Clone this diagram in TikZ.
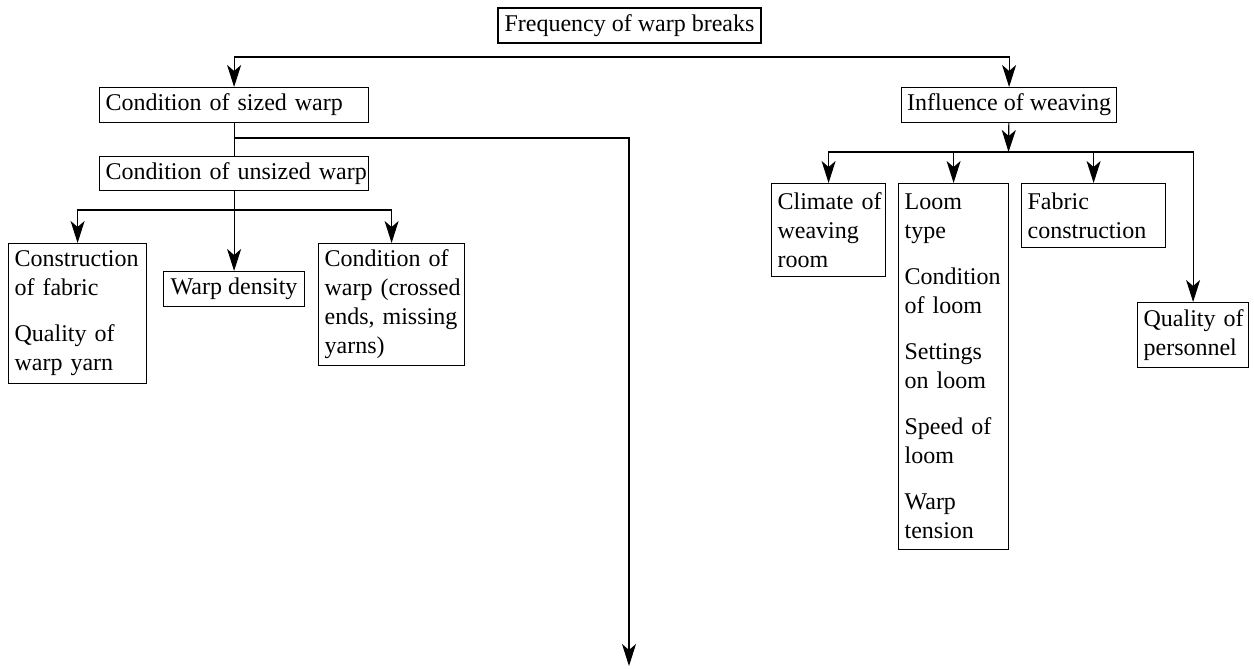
\documentclass[tikz,border=0pt]{standalone}
\usepackage{fontspec}
\setmainfont{Liberation Serif}
\usetikzlibrary{arrows.meta}
\hyphenpenalty=10000
\exhyphenpenalty=10000

\begin{document}
\begin{tikzpicture}[
    x=0.5pt, y=-0.5pt, % one unit = one pixel of the layout
    every node/.style={font=\fontsize{12pt}{14.5pt}\selectfont},
    box/.style={
      rectangle, draw, line width=0.6pt,
      inner xsep=3pt, inner ysep=2pt,
      align=left, anchor=north west
    },
    cbox/.style={
      rectangle, draw, line width=0.6pt,
      inner sep=2pt, align=center
    },
    arrow/.style={-{Stealth[length=11pt, width=7pt, inset=3pt]}, line width=0.6pt},
    link/.style={line width=0.6pt},
  ]
  \useasboundingbox (0,0) rectangle (1254,669);

  % --- Top ---
  \node[cbox, minimum width=131.5pt, minimum height=17.5pt] (freq) at (629.5,25.5)
    {Frequency of warp breaks};

  % --- Warp branch (left) ---
  \node[box, text width=128.5pt, minimum height=17.5pt] (sized) at (99,87)
    {Condition~of~sized~warp};
  \node[box, text width=128.5pt, minimum height=17pt] (unsized) at (99,156)
    {\mbox{Condition of unsized warp}};

  \node[box, text width=63pt, minimum height=70pt] (construct) at (8,243)
    {Construction\\of~fabric\\[8.5pt]
     Quality~of\\warp~yarn};
  \node[cbox, minimum width=70.5pt, minimum height=17.5pt, anchor=north west] (density) at (163,271)
    {Warp density};
  \node[box, text width=67pt, minimum height=61pt] (crossed) at (318,243)
    {Condition~of\\warp~(crossed\\ends,~missing\\yarns)};

  % --- Weaving branch (right) ---
  \node[cbox, minimum width=107.5pt, minimum height=17.5pt, anchor=north west] (weaving) at (901,87)
    {Influence of weaving};

  \node[box, text width=51pt, minimum height=46.5pt] (climate) at (771,183)
    {Climate~of\\weaving\\room};
  \node[box, text width=49pt, minimum height=183pt] (loom) at (898,183)
    {Loom\\type\\[8.5pt]
     Condition\\of~loom\\[8.5pt]
     Settings\\on~loom\\[8.5pt]
     Speed~of\\loom\\[8.5pt]
     Warp\\tension};
  \node[box, text width=66pt, minimum height=32pt] (fabric) at (1021,183)
    {Fabric\\construction};
  \node[box, text width=49.5pt, minimum height=32.5pt] (personnel) at (1137,302)
    {Quality~of\\personnel};

  % --- Junctions ---
  \coordinate (topjoin) at (629.5,57);
  \coordinate (sizedjoin) at (233.5,138);
  \coordinate (unsizedjoin) at (233.5,210);
  \coordinate (weavejoin) at (1008.5,152);
  \coordinate (drop) at (629,666);

  % --- Arrows ---
  \draw[arrow] (topjoin) -| (sized.north);
  \draw[arrow] (topjoin) -| (weaving.north);

  \draw[link] (sized) -- (unsized);
  \draw[arrow] (sizedjoin) -| (drop);

  \draw[arrow] (unsized.south) -- (unsized.south |- density.north);
  \draw[arrow] (unsizedjoin) -| (construct.north);
  \draw[arrow] (unsizedjoin) -| (crossed.north);

  \draw[arrow] (weaving) -- (weavejoin);
  \draw[arrow] (weavejoin) -| (climate.north);
  \draw[arrow] (weavejoin) -| (loom.north);
  \draw[arrow] (weavejoin) -| (fabric.north);
  \draw[arrow] (weavejoin) -| (personnel.north);
\end{tikzpicture}
\end{document}
